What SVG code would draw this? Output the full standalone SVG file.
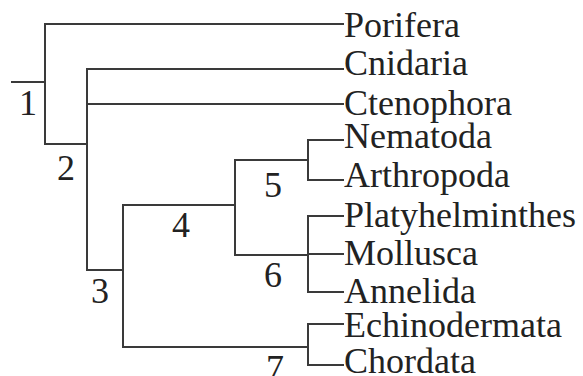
<svg xmlns="http://www.w3.org/2000/svg" width="583" height="376" viewBox="0 0 583 376">
<style>
.c{fill:none;stroke:#3a3a3a;stroke-width:2;stroke-linecap:square}
.t{font-family:"Liberation Serif","Times New Roman",serif;font-size:36px;fill:#222}
.n{font-family:"Liberation Serif","Times New Roman",serif;font-size:36px;fill:#222;text-anchor:middle}
</style>
<rect width="583" height="376" fill="#fff"/>
<g id="connectors">
<path class="c" d="M12,82H45"/>
<path class="c" d="M343,24H45V144H87"/>
<path class="c" d="M343,69H87V270H123"/>
<path class="c" d="M87,104H343"/>
<path class="c" d="M235,205H123V347H308"/>
<path class="c" d="M308,160H235V255H308"/>
<path class="c" d="M343,140H308V180H343"/>
<path class="c" d="M343,216H308V292H343"/>
<path class="c" d="M308,254H343"/>
<path class="c" d="M343,324H308V365H343"/>
</g>
<g id="node-1"><text class="n" x="28" y="115">1</text></g>
<g id="node-2"><text class="n" x="66" y="180">2</text></g>
<g id="node-3"><text class="n" x="100" y="303">3</text></g>
<g id="node-4"><text class="n" x="181" y="237">4</text></g>
<g id="node-5"><text class="n" x="273" y="197">5</text></g>
<g id="node-6"><text class="n" x="273" y="287">6</text></g>
<g id="node-7"><text class="n" x="275" y="380">7</text></g>
<g id="porifera"><text class="t" x="344" y="37">Porifera</text></g>
<g id="cnidaria"><text class="t" x="344" y="75">Cnidaria</text></g>
<g id="ctenophora"><text class="t" x="344" y="115">Ctenophora</text></g>
<g id="nematoda"><text class="t" x="344" y="148">Nematoda</text></g>
<g id="arthropoda"><text class="t" x="344" y="187">Arthropoda</text></g>
<g id="platyhelminthes"><text class="t" x="344" y="227">Platyhelminthes</text></g>
<g id="mollusca"><text class="t" x="344" y="265">Mollusca</text></g>
<g id="annelida"><text class="t" x="344" y="303">Annelida</text></g>
<g id="echinodermata"><text class="t" x="344" y="337">Echinodermata</text></g>
<g id="chordata"><text class="t" x="344" y="373">Chordata</text></g>
</svg>
